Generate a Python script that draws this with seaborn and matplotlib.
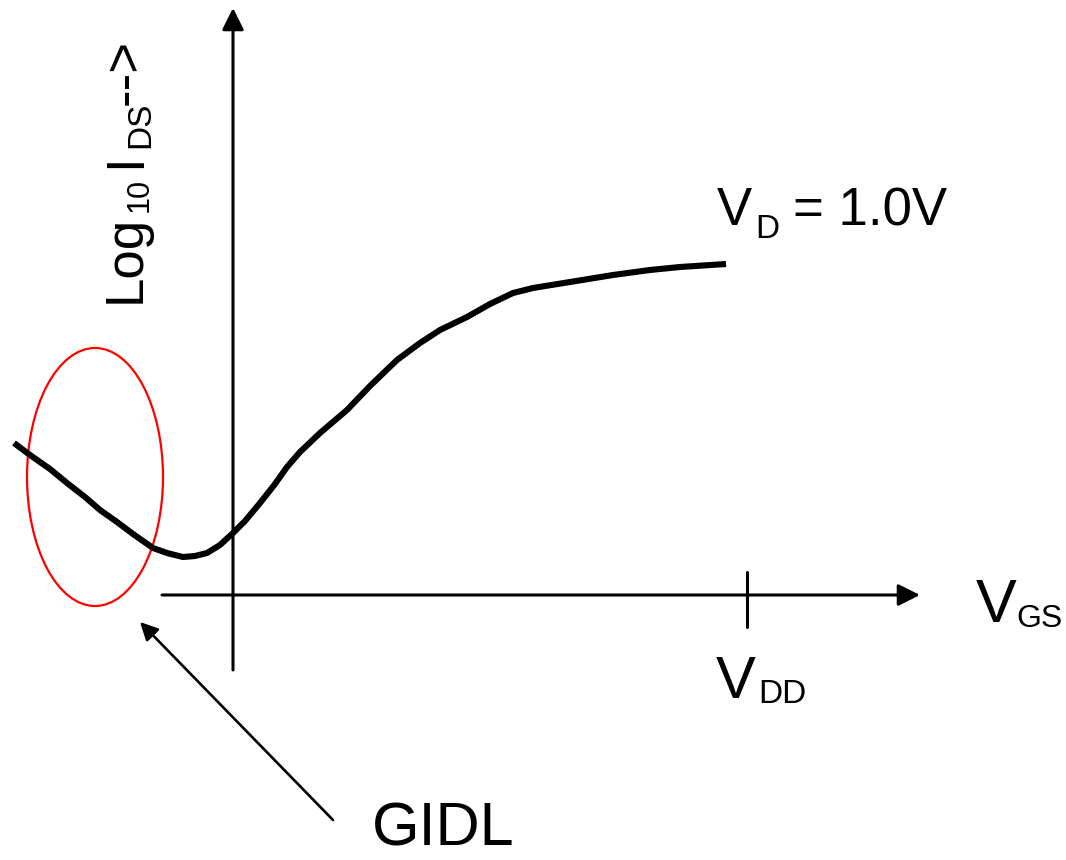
import seaborn as sns
import matplotlib.pyplot as plt
from matplotlib.patches import Ellipse

# Transfer characteristic sketch: gate voltage (arbitrary units, V_GS = 0 at origin)
# against log10 of the drain current (arbitrary units)
vgs = [-219, -203, -183, -166, -148, -133, -116, -100, -80, -66,
       -50, -38, -26, -13, 0, 12, 27, 42, 54, 67,
       87, 114, 137, 164, 187, 207, 234, 257, 280, 300,
       337, 380, 417, 447, 493]
log_ids = [152, 140, 126, 112, 98, 85, 73, 61, 47, 42,
           38, 39, 42, 50, 62, 74, 92, 111, 128, 143,
           162, 185, 209, 235, 252, 265, 278, 291, 302, 307,
           313, 320, 325, 328, 331]

vdd = 514
gidl_label = "GIDL"

sns.set_theme(style="white")
plt.rcParams["font.family"] = ["Liberation Sans", "DejaVu Sans"]
plt.rcParams["text.color"] = "black"

fig = plt.figure(figsize=(10.66, 8.6), dpi=100)
ax = fig.add_axes([0, 0, 1, 1])
ax.set_xlim(-233, 833)
ax.set_ylim(-265, 595)
ax.axis("off")

# Axes with arrow heads
axis_arrow = dict(arrowstyle="-|>,head_length=1.1,head_width=0.55",
                  color="black", lw=2.2, shrinkA=0, shrinkB=0)
ax.annotate("", xy=(0, 587), xytext=(0, -75), arrowprops=axis_arrow)
ax.annotate("", xy=(687, 0), xytext=(-71, 0), arrowprops=axis_arrow)

# V_DD tick on the gate-voltage axis
ax.plot([vdd, vdd], [23, -32], color="black", lw=2.2)

# I-V curve
sns.lineplot(x=vgs, y=log_ids, sort=False, color="black", linewidth=4.4,
             ax=ax, solid_capstyle="butt", solid_joinstyle="round")

# GIDL region highlight
ax.add_patch(Ellipse((-138, 118), 136, 258, fill=False, edgecolor="#ff0000", lw=1.6))

# GIDL pointer
ax.annotate("", xy=(-93, -27), xytext=(100, -225),
            arrowprops=dict(arrowstyle="-|>,head_length=0.9,head_width=0.45",
                            color="black", lw=1.9, shrinkA=0, shrinkB=0))


def label(x, y, s, size, rot=0):
    ax.text(x, y, s, fontsize=size, rotation=rot, rotation_mode="anchor",
            ha="left", va="baseline")


# Curve label: V_D = 1.0V
label(484, 370, "V", 38)
label(522, 357, "D", 24)
label(560, 370, "= 1.0V", 38)

# Gate-voltage axis label: V_GS
label(743, -27, "V", 44)
label(783, -32, "GS", 23)

# Supply-voltage tick label: V_DD
label(483, -103, "V", 43)
label(525, -108, "DD", 24)

# Leakage annotation
label(139, -251, gidl_label, 44)

# Vertical axis label: Log10 I_DS -->
label(-93, 292, "Log", 38, 90)
label(-85, 383, "10", 22, 90)
label(-93, 427, "I", 38, 90)
label(-84, 447, "DS", 24, 90)
label(-93, 490, "-->", 38, 90)

fig.savefig("out.png", dpi=100, facecolor="white")
